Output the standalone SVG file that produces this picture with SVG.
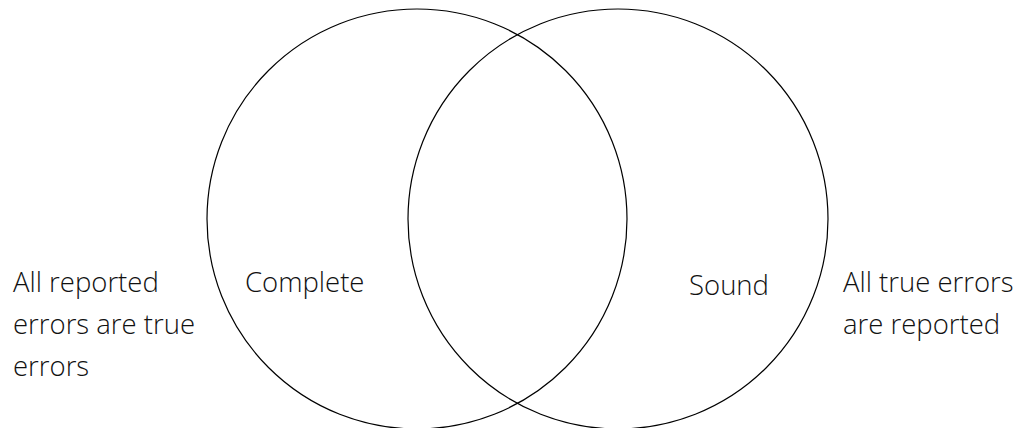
<svg xmlns="http://www.w3.org/2000/svg" width="1024" height="428" viewBox="0 0 1024 428">
<style>
.c{fill:none;stroke:#000;stroke-width:1.2}
.t{font-family:"Open Sans","Noto Sans",sans-serif;font-weight:300;font-size:27.5px;fill:#111}
</style>
<rect width="1024" height="428" fill="#fff"/>
<g id="complete">
<circle class="c" cx="417" cy="219" r="210"/>
<text class="t" x="245" y="292">Complete</text>
</g>
<g id="sound">
<circle class="c" cx="618" cy="219" r="210"/>
<text class="t" x="689" y="295">Sound</text>
</g>
<g id="left-note">
<text class="t" x="13" y="292">All reported</text>
<text class="t" x="13" y="334">errors are true</text>
<text class="t" x="13" y="376">errors</text>
</g>
<g id="right-note">
<text class="t" x="843" y="292">All true errors</text>
<text class="t" x="843" y="334">are reported</text>
</g>
</svg>
